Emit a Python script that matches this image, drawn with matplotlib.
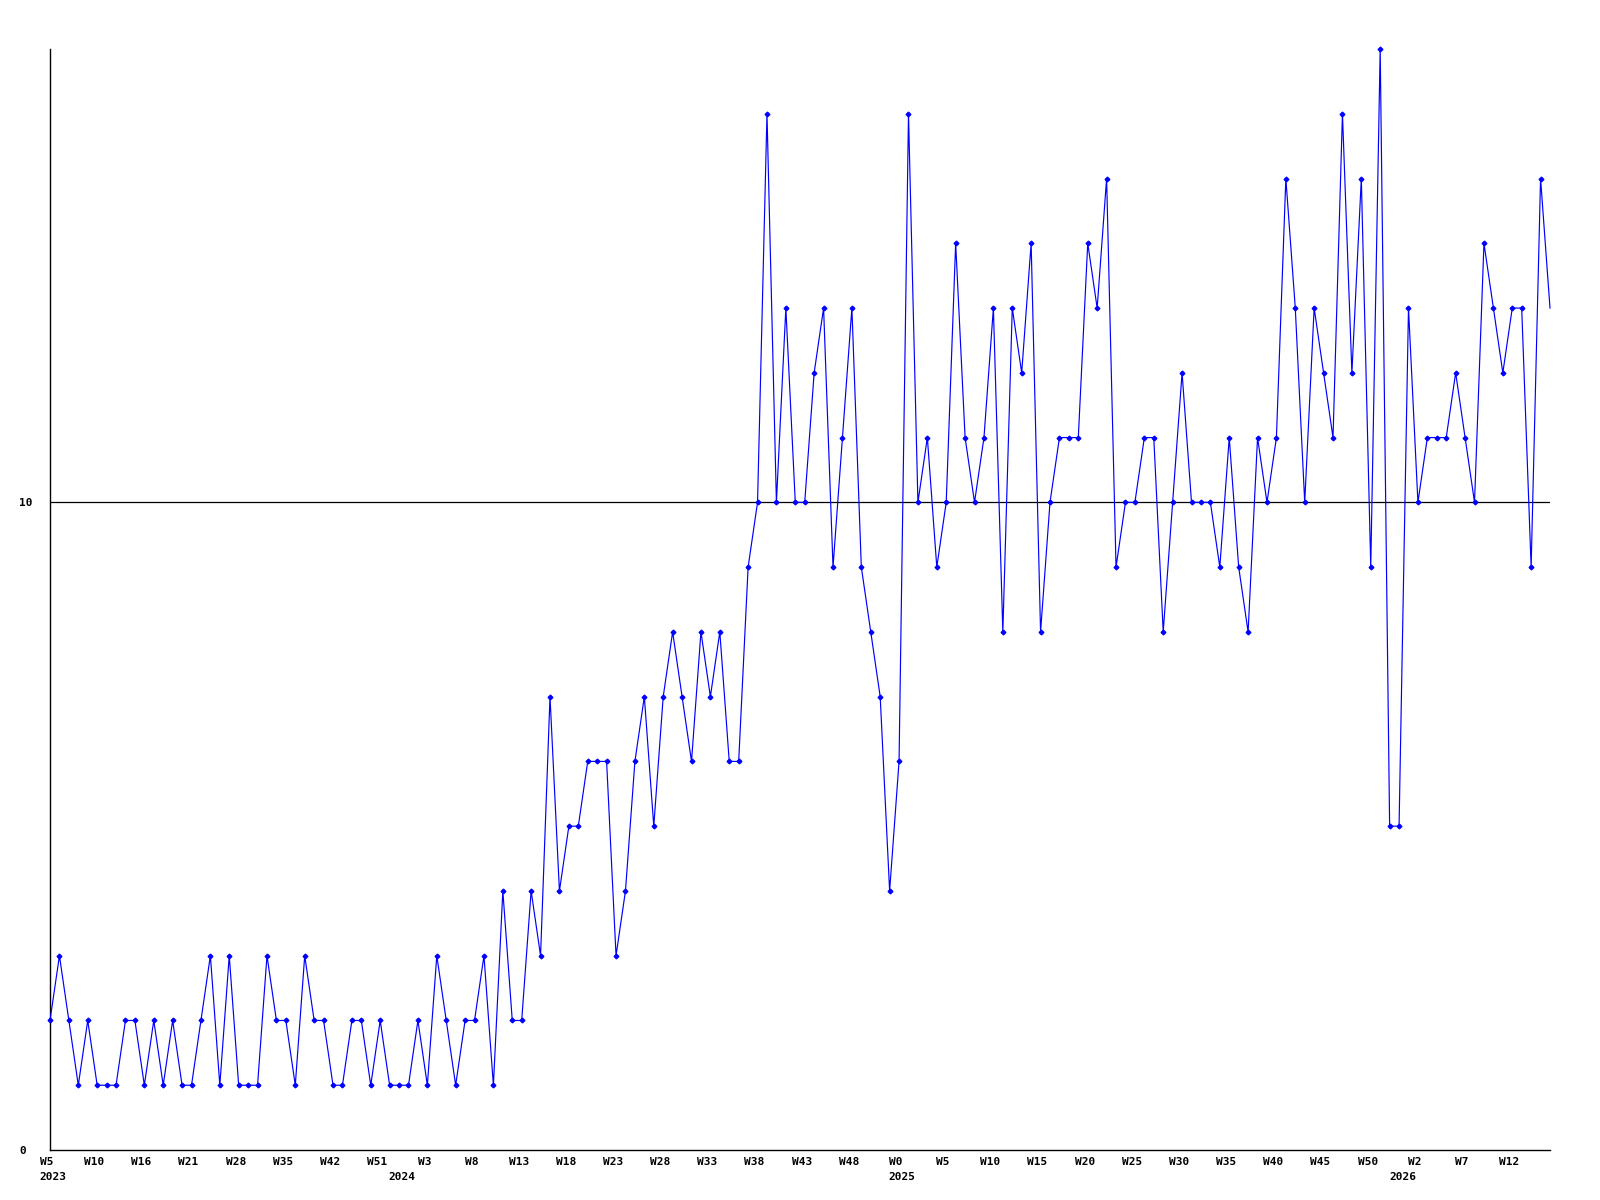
# grafico semanal: linea azul con marcadores, eje con semanas
import matplotlib
matplotlib.use("Agg")
import matplotlib.pyplot as plt
from matplotlib.transforms import blended_transform_factory, ScaledTranslation

# ---------------- datos (un valor por semana) ----------------
valores = [
    2, 3, 2, 1, 2, 1, 1, 1, 2, 2, 1, 2, 1, 2, 1, 1, 2, 3, 1, 3,
    1, 1, 1, 3, 2, 2, 1, 3, 2, 2, 1, 1, 2, 2, 1, 2, 1, 1, 1, 2,
    1, 3, 2, 1, 2, 2, 3, 1, 4, 2, 2, 4, 3, 7, 4, 5, 5, 6, 6, 6,
    3, 4, 6, 7, 5, 7, 8, 7, 6, 8, 7, 8, 6, 6, 9, 10, 16, 10, 13, 10,
    10, 12, 13, 9, 11, 13, 9, 8, 7, 4, 6, 16, 10, 11, 9, 10, 14, 11, 10, 11,
    13, 8, 13, 12, 14, 8, 10, 11, 11, 11, 14, 13, 15, 9, 10, 10, 11, 11, 8, 10,
    12, 10, 10, 10, 9, 11, 9, 8, 11, 10, 11, 15, 13, 10, 13, 12, 11, 16, 12, 15,
    9, 17, 5, 5, 13, 10, 11, 11, 11, 12, 11, 10, 14, 13, 12, 13, 13, 9, 15, 13,
]

# etiquetas de semana (una cada 5 puntos)
semanas = ["W5", "W10", "W16", "W21", "W28", "W35", "W42", "W51", "W3", "W8",
           "W13", "W18", "W23", "W28", "W33", "W38", "W43", "W48", "W0", "W5",
           "W10", "W15", "W20", "W25", "W30", "W35", "W40", "W45", "W50", "W2",
           "W7", "W12"]
paso_semanas = 5

# etiquetas de anio y el indice donde aparecen
anios = ["2023", "2024", "2025", "2026"]
pos_anios = [0.3, 37.3, 90.3, 143.4]

azul = "#0000ff"
fuente = "DejaVu Sans Mono"

# ---------------- figura ----------------
fig = plt.figure(figsize=(16, 12), dpi=100)
ax = fig.add_axes([50 / 1600, 1 - 1150 / 1200, 1500 / 1600, 1101 / 1200])

x = list(range(len(valores)))
ax.plot(x, valores, color=azul, lw=0.85, marker="D", markersize=2.4,
        markevery=slice(0, len(valores) - 1), clip_on=False, zorder=3)

ax.set_xlim(0, len(valores) - 1)
ax.set_ylim(0, 17)

# solo ejes izquierdo e inferior
ax.spines["top"].set_visible(False)
ax.spines["right"].set_visible(False)
for lado in ("left", "bottom"):
    ax.spines[lado].set_linewidth(1.0)
    ax.spines[lado].set_color("black")

# eje y: 0 y 10, con linea horizontal en 10
ax.set_yticks([0, 10])
ax.set_yticklabels(["0", "10"], fontfamily=fuente, fontweight="bold", fontsize=8)
ax.axhline(10, color="black", lw=0.9, zorder=1)

# eje x: semanas
ax.set_xticks(range(0, len(semanas) * paso_semanas, paso_semanas))
ax.set_xticklabels(semanas, fontfamily=fuente, fontweight="bold", fontsize=8)
ax.tick_params(axis="both", length=0)
ax.tick_params(axis="x", pad=5)
ax.tick_params(axis="y", pad=22)
for etiqueta in ax.get_yticklabels():
    etiqueta.set_horizontalalignment("left")

# mover un poco a la izquierda las etiquetas de semana
desplazamiento = ScaledTranslation(-3 / 100, 0, fig.dpi_scale_trans)
for etiqueta in ax.get_xticklabels():
    etiqueta.set_transform(etiqueta.get_transform() + desplazamiento)

# anios debajo de las semanas
trans = blended_transform_factory(ax.transData, ax.transAxes)
for anio, pos in zip(anios, pos_anios):
    ax.text(pos, -0.0245, anio, transform=trans, ha="center", va="center",
            fontfamily=fuente, fontweight="bold", fontsize=8)

fig.savefig("out.png", dpi=100, facecolor="white")
